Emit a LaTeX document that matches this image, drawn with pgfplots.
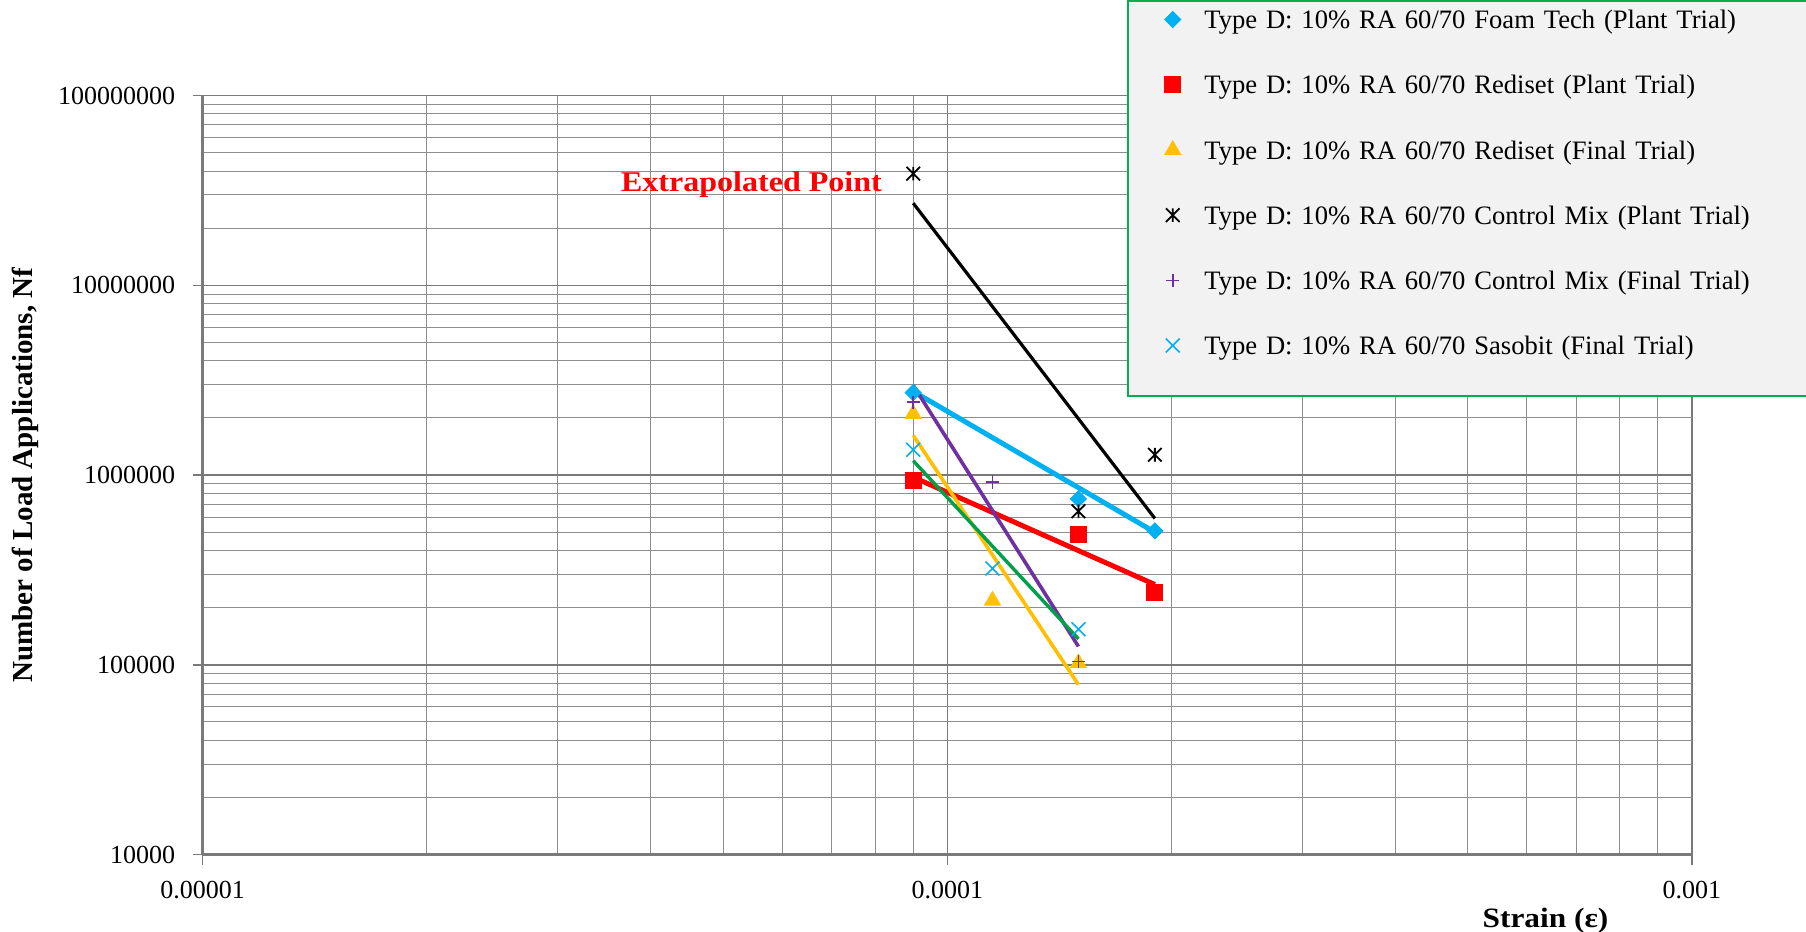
\documentclass[border=0pt]{standalone}
\usepackage{pgfplots}
\pgfplotsset{compat=1.18}
\usepackage{fontspec}
\setmainfont{Liberation Serif}
\newfontfamily\labfont[FakeStretch=1.12]{Liberation Serif}
\definecolor{cCyan}{HTML}{00B0F0}
\definecolor{cRed}{HTML}{FF0000}
\definecolor{cGold}{HTML}{FFC000}
\definecolor{cPurple}{HTML}{7030A0}
\definecolor{cGreen}{HTML}{00A04A}
\definecolor{legfill}{HTML}{F2F2F2}
\definecolor{legedge}{HTML}{00B050}
\definecolor{gridminor}{HTML}{8E8E8E}
\definecolor{gridmajor}{HTML}{7A7A7A}
\pgfdeclareplotmark{xlstar}{%
  \pgfpathmoveto{\pgfqpoint{0pt}{\pgfplotmarksize}}%
  \pgfpathlineto{\pgfqpoint{0pt}{-\pgfplotmarksize}}%
  \pgfpathmoveto{\pgfqpoint{-\pgfplotmarksize}{\pgfplotmarksize}}%
  \pgfpathlineto{\pgfqpoint{\pgfplotmarksize}{-\pgfplotmarksize}}%
  \pgfpathmoveto{\pgfqpoint{-\pgfplotmarksize}{-\pgfplotmarksize}}%
  \pgfpathlineto{\pgfqpoint{\pgfplotmarksize}{\pgfplotmarksize}}%
  \pgfusepathqstroke}
\begin{document}
\begin{tikzpicture}
\path[use as bounding box] (0,0) rectangle (903pt,466pt);
\begin{axis}[
  at={(101.35pt,38.7pt)}, anchor=south west,
  scale only axis, width=744.65pt, height=379.5pt,
  clip=false,
  xmode=log, ymode=log,
  xmin=1e-5, xmax=1e-3, ymin=1e4, ymax=1e8,
  xtick={1e-5,1e-4,1e-3}, xticklabels={0.00001,0.0001,0.001},
  ytick={1e4,1e5,1e6,1e7,1e8},
  yticklabels={10000,100000,1000000,10000000,100000000},
  grid=both,
  minor grid style={draw=gridminor, line width=0.5pt},
  major grid style={draw=gridmajor, line width=0.8pt},
  axis lines=left,
  axis line style={-, draw=gridmajor, line width=1.2pt},
  tick style={draw=gridmajor, line width=0.8pt},
  major tick length=5pt, minor tick length=0pt,
  tick align=outside,
  xticklabel style={font=\fontsize{13}{15}\selectfont, yshift=-4.7pt},
  yticklabel style={font=\fontsize{13}{15}\selectfont, xshift=-5.2pt},
  xlabel={Strain (ε)},
  xlabel style={font=\labfont\bfseries\fontsize{14}{16}\selectfont, at={(axis description cs:0.9017,-0.0958)}, anchor=base},
  ylabel={Number of Load Applications, Nf},
  ylabel style={font=\bfseries\fontsize{14.5}{16}\selectfont, at={(axis description cs:-0.1191,0.5)}, anchor=center, rotate=0},
  legend style={at={(axis description cs:0.6213,1.1246)}, anchor=north west,
    fill=none, draw=none,
    inner xsep=13.5pt, inner ysep=4.45pt,
    font=\fontsize{13.3}{15}\selectfont,
    row sep={32.6pt,between origins}, column sep=7.1pt,
    cells={anchor=base west},
    nodes={inner sep=0pt, text width=330pt, align=left}},
  legend image code/.code={%
    \path (0pt,4.6pt) (17pt,4.6pt);
    \draw[mark repeat=2, mark phase=2, #1] plot coordinates {(0pt,4.6pt) (8.5pt,4.6pt) (17pt,4.6pt)};},
]
% legend box
\draw[fill=legfill, draw=legedge, line width=0.8pt]
  (axis description cs:0.6213,1.1246) rectangle (axis description cs:1.09,0.6042);
% data points
\addplot[only marks, mark=square*, mark size=2.85pt, mark options={rotate=45, fill=cCyan, draw=cCyan, line width=0.4pt}]
  coordinates {(9e-5,2.72e6) (1.5e-4,7.5e5) (1.9e-4,5.08e5)};
\addlegendentry{Type D: 10\% RA 60/70 Foam Tech (Plant Trial)}
\addplot[only marks, mark=square*, mark size=4pt, mark options={fill=cRed, draw=cRed, line width=0.4pt}]
  coordinates {(9e-5,9.33e5) (1.5e-4,4.86e5) (1.9e-4,2.40e5)};
\addlegendentry{Type D: 10\% RA 60/70 Rediset (Plant Trial)}
\addplot[only marks, mark=triangle*, mark size=4.6pt, mark options={fill=cGold, draw=cGold, line width=0.4pt}]
  coordinates {(9e-5,2.10e6) (1.15e-4,2.18e5) (1.5e-4,1.02e5)};
\addlegendentry{Type D: 10\% RA 60/70 Rediset (Final Trial)}
\addplot[only marks, mark=xlstar, mark size=3.4pt, mark options={draw=black, line width=0.9pt}]
  coordinates {(9e-5,3.88e7) (1.5e-4,6.45e5) (1.9e-4,1.28e6)};
\addlegendentry{Type D: 10\% RA 60/70 Control Mix (Plant Trial)}
\addplot[only marks, mark=+, mark size=3.3pt, mark options={draw=cPurple, line width=0.8pt}]
  coordinates {(9e-5,2.42e6) (1.15e-4,9.2e5) (1.5e-4,1.04e5)};
\addlegendentry{Type D: 10\% RA 60/70 Control Mix (Final Trial)}
\addplot[only marks, mark=x, mark size=4.9pt, mark options={draw=cCyan, line width=0.8pt}]
  coordinates {(9e-5,1.36e6) (1.15e-4,3.22e5) (1.5e-4,1.54e5)};
\addlegendentry{Type D: 10\% RA 60/70 Sasobit (Final Trial)}
% trend lines
\addplot[forget plot, no marks, draw=cCyan, line width=2.5pt] coordinates {(9e-5,2.76e6) (1.9e-4,5.0e5)};
\addplot[forget plot, no marks, draw=cRed, line width=2.5pt] coordinates {(9e-5,9.75e5) (1.9e-4,2.65e5)};
\addplot[forget plot, no marks, draw=black, line width=1.6pt] coordinates {(9e-5,2.71e7) (1.9e-4,5.91e5)};
\addplot[forget plot, no marks, draw=cGold, line width=1.8pt] coordinates {(9e-5,1.62e6) (1.5e-4,7.87e4)};
\addplot[forget plot, no marks, draw=cPurple, line width=1.8pt] coordinates {(9e-5,2.97e6) (1.5e-4,1.25e5)};
\addplot[forget plot, no marks, draw=cGreen, line width=1.7pt] coordinates {(9e-5,1.19e6) (1.5e-4,1.37e5)};
\node[text=red, font=\labfont\bfseries\fontsize{14.3}{16}\selectfont, anchor=base] at (axis description cs:0.3685,0.8734) {Extrapolated Point};
\end{axis}
\end{tikzpicture}
\end{document}
